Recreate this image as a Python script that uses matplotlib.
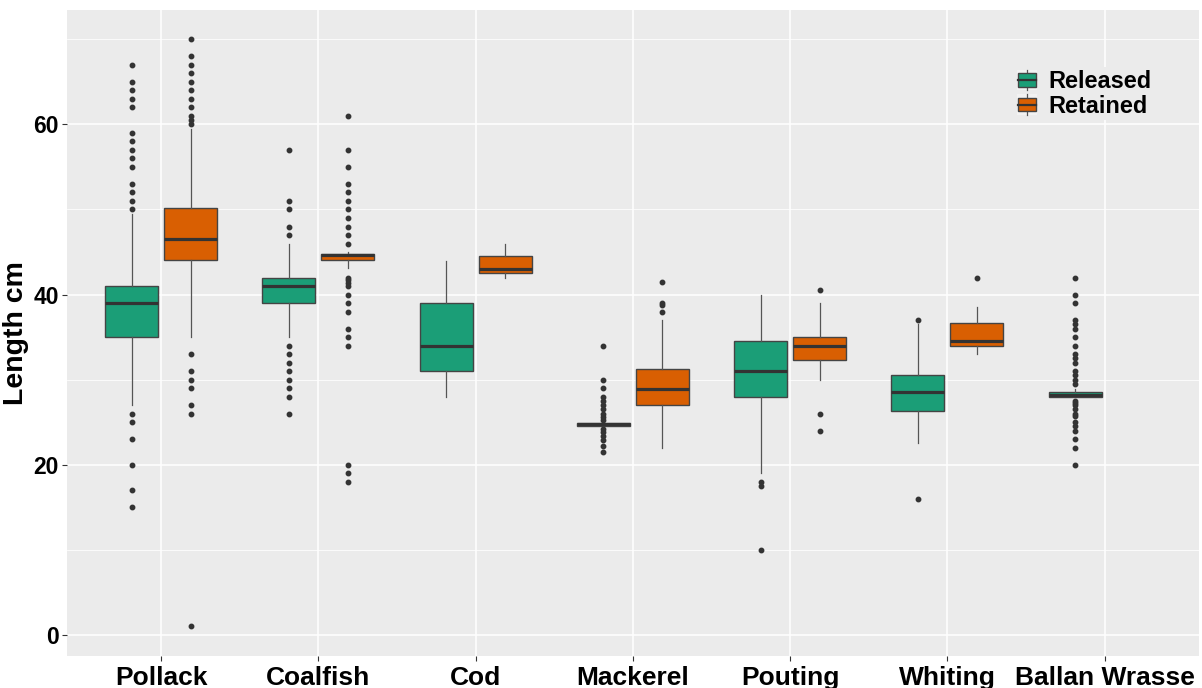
import matplotlib
matplotlib.use("Agg")
import matplotlib.pyplot as plt
from matplotlib.legend_handler import HandlerBase
from matplotlib.patches import Rectangle, Patch
from matplotlib.lines import Line2D
from matplotlib.ticker import MultipleLocator

plt.rcParams['font.family'] = ['Liberation Sans', 'DejaVu Sans']

categories = ["Pollack", "Coalfish", "Cod", "Mackerel", "Pouting", "Whiting", "Ballan Wrasse"]
groups = ["Released", "Retained"]
colors = {"Released": "#1B9E77", "Retained": "#D95F02"}

# Released: whisker low, q1, median, q3, whisker high, outliers
rel_whislo = [27, 35, 28, 24.5, 19, 22.5, 27.95]
rel_q1     = [35, 39, 31, 24.6, 28, 26.3, 27.95]
rel_med    = [39, 41, 34, 24.75, 31, 28.6, 28.15]
rel_q3     = [41, 42, 39, 24.9, 34.5, 30.5, 28.55]
rel_whishi = [49.5, 46, 44, 25.0, 40, 36.5, 28.9]
rel_fliers = [
    [67, 65, 64, 63, 62, 59, 58, 57, 56, 55, 53, 52, 51, 50, 26, 25, 23, 20, 17, 15],
    [57, 51, 50, 48, 47, 34, 33, 32, 31, 30, 29, 28, 26],
    [],
    [34, 30, 29, 28, 27.5, 27, 26.5, 26, 25.6, 25.2, 24.2, 23.8, 23.4, 22.9, 22.2, 21.5],
    [18, 17.5, 10],
    [37, 16],
    [42, 40, 39, 37, 36.5, 36, 35, 34, 33, 32.5, 32, 31, 30.5, 30, 29.5,
     27.5, 27.25, 27, 26.5, 26, 25.75, 25, 24.5, 24, 23, 22, 20],
]

# Retained (no Ballan Wrasse retained)
ret_whislo = [35, 43.1, 42, 22, 30, 33]
ret_q1     = [44.1, 44.1, 42.5, 27, 32.3, 34]
ret_med    = [46.5, 44.6, 43, 28.9, 34, 34.5]
ret_q3     = [50.2, 44.8, 44.5, 31.2, 35, 36.6]
ret_whishi = [59.5, 45, 46, 37, 39, 38.5]
ret_fliers = [
    [70, 68, 67, 66, 65, 64, 63, 62, 61, 60.5, 60, 33, 31, 30, 29, 27, 26, 1],
    [61, 57, 55, 53, 52, 51, 50, 49, 48, 47, 46, 42, 41.7, 41.4, 41, 40, 39, 38, 36, 35, 34, 20, 19, 18],
    [],
    [41.5, 39, 38.8, 38],
    [40.5, 26, 24],
    [42],
]

yticks = [0, 20, 40, 60]

fig = plt.figure(figsize=(12.02, 6.88), dpi=100)
ax = fig.add_axes([66.7/1202, 32.3/688, (1199-66.7)/1202, (655.7-10)/688])
ax.set_facecolor("#EBEBEB")
for s in ax.spines.values():
    s.set_visible(False)

def make_stats(wl, q1, med, q3, wh, fl):
    return [dict(whislo=a, q1=b, med=c, q3=d, whishi=e, fliers=f)
            for a, b, c, d, e, f in zip(wl, q1, med, q3, wh, fl)]

dodge = 0.1875
bw = 0.3375
sets = [
    ("Released", make_stats(rel_whislo, rel_q1, rel_med, rel_q3, rel_whishi, rel_fliers), -dodge),
    ("Retained", make_stats(ret_whislo, ret_q1, ret_med, ret_q3, ret_whishi, ret_fliers), dodge),
]
for name, stats, off in sets:
    pos = [i + 1 + off for i in range(len(stats))]
    ax.bxp(stats, positions=pos, widths=bw, patch_artist=True, showcaps=False,
           boxprops=dict(facecolor=colors[name], edgecolor="#444444", linewidth=1.0),
           medianprops=dict(color="#333333", linewidth=2.3, solid_capstyle="butt"),
           whiskerprops=dict(color="#555555", linewidth=0.9),
           flierprops=dict(marker="o", markersize=3.2, markerfacecolor="#333333",
                           markeredgecolor="#333333", linestyle="none"),
           zorder=3, manage_ticks=False)

ax.set_xlim(0.4, 7.6)
ax.set_ylim(-2.45, 73.45)
ax.set_xticks(range(1, len(categories) + 1))
ax.set_xticklabels(categories)
ax.set_yticks(yticks)
ax.yaxis.set_minor_locator(MultipleLocator(10))
ax.grid(which="major", color="white", linewidth=1.1, zorder=0)
ax.grid(which="minor", axis="y", color="white", linewidth=0.55, zorder=0)
ax.set_axisbelow(True)
ax.tick_params(axis="both", which="major", length=3.5, width=0.8, color="#333333")
ax.tick_params(axis="y", which="minor", length=0)
ax.tick_params(axis="x", labelsize=19, pad=4)
ax.tick_params(axis="y", labelsize=16.5, pad=2)
for lab in ax.get_xticklabels() + ax.get_yticklabels():
    lab.set_fontweight("bold")
    lab.set_color("black")
ax.set_ylabel("Length cm", fontsize=20.5, fontweight="bold", labelpad=3)


class BoxKeyHandler(HandlerBase):
    def create_artists(self, legend, orig_handle, xdescent, ydescent,
                       width, height, fontsize, trans):
        x0, y0 = -xdescent, -ydescent
        bg = Rectangle((x0, y0), width, height, facecolor="#F2F2F2",
                       edgecolor="none", transform=trans)
        cx = x0 + width / 2
        wl = Line2D([cx, cx], [y0, y0 + height],
                    color="#555555", lw=0.9, transform=trans)
        box = Rectangle((x0 + 0.06 * width, y0 + 0.16 * height), 0.88 * width, 0.68 * height,
                        facecolor=orig_handle.get_facecolor(), edgecolor="#444444",
                        lw=1.0, transform=trans)
        med = Line2D([x0 + 0.06 * width, x0 + 0.94 * width], [y0 + 0.5 * height] * 2,
                     color="#333333", lw=1.6, transform=trans)
        return [bg, wl, box, med]


handles = [Patch(facecolor=colors[g]) for g in groups]
leg = ax.legend(handles, groups, handler_map={Patch: BoxKeyHandler()},
                loc="upper left", bbox_to_anchor=(1014 / 1202, 1 - 67 / 688),
                bbox_transform=fig.transFigure, frameon=True, facecolor="#EBEBEB",
                edgecolor="none", framealpha=1, fancybox=False,
                prop=dict(size=16.9, weight="bold"), handlelength=0.85, handleheight=0.95,
                handletextpad=0.5, labelspacing=0.06, borderpad=0.12, borderaxespad=0)
leg.set_zorder(5)

fig.savefig("out.png", dpi=100)
